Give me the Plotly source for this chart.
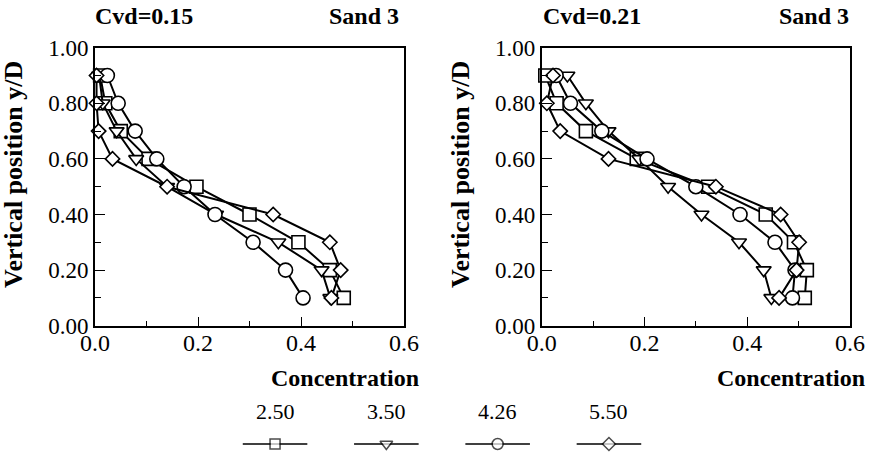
import plotly.graph_objects as go

# ---- data ----
y_levels = [0.9, 0.8, 0.7, 0.6, 0.5, 0.4, 0.3, 0.2, 0.1]
series_names = ["2.50", "3.50", "4.26", "5.50"]

# Cvd = 0.15
left_250 = [0.010, 0.020, 0.050, 0.104, 0.197, 0.300, 0.395, 0.456, 0.483]
left_350 = [0.008, 0.015, 0.042, 0.080, 0.140, 0.235, 0.356, 0.440, 0.457]
left_426 = [0.024, 0.045, 0.078, 0.120, 0.173, 0.233, 0.307, 0.370, 0.404]
left_550 = [0.003, 0.003, 0.007, 0.034, 0.140, 0.346, 0.456, 0.477, 0.459]

# Cvd = 0.21
right_250 = [0.007, 0.029, 0.086, 0.185, 0.324, 0.436, 0.491, 0.516, 0.512]
right_350 = [0.050, 0.086, 0.130, 0.190, 0.246, 0.311, 0.384, 0.432, 0.447]
right_426 = [0.028, 0.056, 0.117, 0.205, 0.300, 0.386, 0.454, 0.493, 0.488]
right_550 = [0.022, 0.010, 0.036, 0.130, 0.339, 0.465, 0.501, 0.496, 0.462]

x_tickvals = [0.0, 0.2, 0.4, 0.6]
x_ticktext = ["0.0", "0.2", "0.4", "0.6"]
y_tickvals = [0.0, 0.2, 0.4, 0.6, 0.8, 1.0]
y_ticktext = ["0.00", "0.20", "0.40", "0.60", "0.80", "1.00"]

# ---- styles ----
W, H = 877, 452
FONT = "'Liberation Serif', 'Times New Roman', Times, 'DejaVu Serif', serif"
symbols = ["square", "triangle-down", "circle", "diamond"]
msizes = [13, 13, 14, 11]
leg_msizes = [10, 11, 11, 10]

fig = go.Figure()

panels = [("x", "y", [left_250, left_350, left_426, left_550]),
          ("x2", "y2", [right_250, right_350, right_426, right_550])]

for xa, ya, data in panels:
    for i, vals in enumerate(data):
        fig.add_trace(go.Scatter(
            x=vals, y=y_levels, xaxis=xa, yaxis=ya, mode="lines+markers",
            line=dict(color="black", width=2),
            marker=dict(symbol=symbols[i], size=msizes[i],
                        color="white", line=dict(color="black", width=1.6)),
            showlegend=False, cliponaxis=False))

# manual legend (labels above a short line with centered marker)
for i, name in enumerate(series_names):
    fig.add_trace(go.Scatter(
        x=[i - 0.29, i, i + 0.29], y=[0, 0, 0], xaxis="x3", yaxis="y3",
        mode="lines+markers",
        line=dict(color="black", width=1.5),
        marker=dict(symbol=symbols[i], size=[0, leg_msizes[i], 0],
                    color="white", line=dict(color="black", width=1.5)),
        showlegend=False, cliponaxis=False))

ydom = [(H - 325.7) / H, (H - 47.7) / H]
common_x = dict(range=[0, 0.6], tickvals=x_tickvals, ticktext=x_ticktext,
                ticks="inside", ticklen=9, tickwidth=1.3, tickcolor="black",
                minor=dict(ticks="inside", dtick=0.1, ticklen=5, tickwidth=1.3, tickcolor="black"),
                showline=True, linecolor="black", linewidth=1.6, mirror=True,
                showgrid=False, zeroline=False, automargin=False,
                ticklabelstandoff=-5,
                tickfont=dict(family=FONT, size=24, color="black"))
common_y = dict(range=[0, 1.0], domain=ydom, tickvals=y_tickvals, ticktext=y_ticktext,
                ticks="inside", ticklen=10, tickwidth=1.3, tickcolor="black",
                minor=dict(ticks="inside", dtick=0.1, ticklen=6, tickwidth=1.3, tickcolor="black"),
                showline=True, linecolor="black", linewidth=1.6, mirror=True,
                showgrid=False, zeroline=False, automargin=False,
                tickfont=dict(family=FONT, size=23, color="black"))

fig.update_layout(
    width=W, height=H,
    margin=dict(l=0, r=0, t=0, b=0, autoexpand=False),
    paper_bgcolor="white", plot_bgcolor="white",
    font=dict(family=FONT, color="black"),
    xaxis=dict(domain=[95 / W, 404 / W], anchor="y", **common_x),
    yaxis=dict(anchor="x", **common_y),
    xaxis2=dict(domain=[541.7 / W, 850 / W], anchor="y2", **common_x),
    yaxis2=dict(anchor="x2", **common_y),
    xaxis3=dict(domain=[(275 - 55.6) / W, (609 + 55.6) / W], range=[-0.5, 3.5],
                visible=False, anchor="y3", automargin=False),
    yaxis3=dict(domain=[0, 16 / H], range=[-1, 1], visible=False, anchor="x3",
                automargin=False),
    showlegend=False,
)

ann = []
def txt(x, y, s, size, bold=False, xanchor="center", yanchor="middle", angle=0, xref="paper"):
    ann.append(dict(x=x / W if xref == "paper" else x, y=1 - y / H, xref=xref, yref="paper",
                    text=f"<b>{s}</b>" if bold else s,
                    showarrow=False, xanchor=xanchor, yanchor=yanchor, textangle=angle,
                    font=dict(family=FONT, size=size, color="black")))

# panel titles
txt(93, 16, "Cvd=0.15", 24, True, xanchor="left")
txt(401, 16, "Sand 3", 24, True, xanchor="right")
txt(541, 16, "Cvd=0.21", 24, True, xanchor="left")
txt(851, 16, "Sand 3", 24, True, xanchor="right")
# axis titles
txt(13, 175, "Vertical position y/D", 26, True, angle=-90)
txt(460, 175, "Vertical position y/D", 26, True, angle=-90)
txt(421, 378, "Concentration", 24, True, xanchor="right")
txt(867, 378, "Concentration", 24, True, xanchor="right")
# legend labels
for i, name in enumerate(series_names):
    txt(i, 411, name, 22, False, xref="x3")
fig.update_layout(annotations=ann)

fig.write_html("out.html", config={"displayModeBar": False},
               post_script="document.body.style.margin='0';document.body.style.overflow='hidden';")
